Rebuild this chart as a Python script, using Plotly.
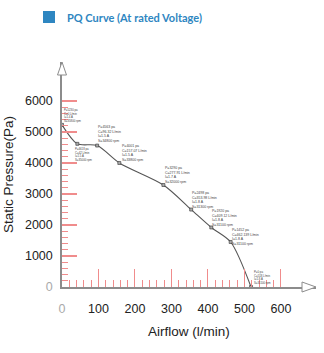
import plotly.graph_objects as go

# Data
airflow = [0, 42, 96.32, 157.07, 277.91, 353.98, 409.12, 462.139, 518]
pressure = [5230, 4618, 4563, 4001, 3290, 2498, 1920, 1452, 0]
current = [1.4, 1.5, 1.5, 1.5, 1.7, 1.8, 1.8, 1.8, 1.8]
speed = [35800, 35000, 34800, 33800, 32000, 31300, 31100, 31100, 31100]

x_ticks = [0, 100, 200, 300, 400, 500, 600]
y_ticks = [0, 1000, 2000, 3000, 4000, 5000, 6000]
x_minor = [v for v in range(20, 601, 20) if v % 100]
y_minor = [v for v in range(200, 6001, 200) if v % 1000]

title_text = "PQ Curve (At rated Voltage)"
x_title = "Airflow (l/min)"
y_title = "Static Pressure(Pa)"

# label styling (placement relative to each point)
label_style = [  # (yanchor, xshift, yshift, size)
    ("bottom", 1, 1, 2.8),
    ("top", -3, -2, 2.8),
    ("bottom", 0, 2, 3.5),
    ("bottom", 2, 0, 3.5),
    ("bottom", 1, 0, 3.5),
    ("bottom", 0, 0, 3.5),
    ("bottom", 0, -1, 3.5),
    ("bottom", 0, -5, 3.5),
    ("bottom", 2, 1, 2.8),
]

labels = [f"P={p} pa<br>C={c} L/min<br>I={i} A<br>S={s} rpm"
          for p, c, i, s in zip(pressure, airflow, current, speed)]

def tick_text(vals):
    return ['<span style="color:#aaaaaa">0</span>' if v == 0 else str(v) for v in vals]

fig = go.Figure()
fig.add_trace(go.Scatter(
    x=airflow, y=pressure, mode="lines+markers",
    line=dict(color="#555555", width=1.1, shape="spline", smoothing=0.8),
    marker=dict(symbol="square", size=3, color="#aaaaaa",
                line=dict(color="#333333", width=0.6)),
    hoverinfo="skip", cliponaxis=False, showlegend=False))

for xv, yv, lab, (ya, xs, ys, sz) in zip(airflow, pressure, labels, label_style):
    fig.add_annotation(x=xv, y=yv, xref="x", yref="y", text=lab, showarrow=False,
                       xanchor="left", yanchor=ya, align="left",
                       xshift=xs, yshift=ys, borderpad=0,
                       font=dict(size=sz, color="#444444", family="Liberation Sans"))

XMAX, YMAX = 696, 7258
tickcol = "#f08c8c"
fig.update_xaxes(range=[0, XMAX], showgrid=False, zeroline=False,
                 showline=True, linecolor="#8c8c8c", linewidth=1.5,
                 ticks="inside", ticklen=18, tickwidth=1, tickcolor=tickcol,
                 tickvals=x_ticks, ticktext=tick_text(x_ticks),
                 ticklabelstandoff=9,
                 tickfont=dict(size=12.5, color="#222222", family="Liberation Sans"),
                 minor=dict(tickvals=x_minor, ticks="inside", ticklen=7,
                            tickcolor=tickcol, tickwidth=1, showgrid=False),
                 title=dict(text=x_title, standoff=12,
                            font=dict(size=13.5, color="#222222", family="Liberation Sans")))
fig.update_yaxes(range=[0, YMAX], showgrid=False, zeroline=False,
                 showline=True, linecolor="#8c8c8c", linewidth=1.5,
                 ticks="inside", ticklen=15, tickwidth=1.5, tickcolor=tickcol,
                 tickvals=y_ticks, ticktext=tick_text(y_ticks),
                 ticklabelstandoff=5,
                 tickfont=dict(size=12.5, color="#222222", family="Liberation Sans"),
                 minor=dict(tickvals=y_minor, ticks="inside", ticklen=6,
                            tickcolor=tickcol, tickwidth=1, showgrid=False),
                 title=dict(text=y_title, standoff=8,
                            font=dict(size=13.5, color="#222222", family="Liberation Sans")))

# open arrowheads at the ends of the axes
fig.add_shape(type="path", xref="paper", yref="paper", xsizemode="pixel", ysizemode="pixel",
              xanchor=1, yanchor=0, path="M 0 0 L -14 5 L -14 -5 Z",
              line=dict(color="#8c8c8c", width=1), fillcolor="white")
fig.add_shape(type="path", xref="paper", yref="paper", xsizemode="pixel", ysizemode="pixel",
              xanchor=0, yanchor=1, path="M 0 0 L -4.5 -13 L 4.5 -13 Z",
              line=dict(color="#8c8c8c", width=1), fillcolor="white")

# title with blue square
fig.add_shape(type="rect", xref="paper", yref="paper", xsizemode="pixel", ysizemode="pixel",
              xanchor=0, yanchor=1, x0=-19, x1=-7, y0=39, y1=51,
              fillcolor="#2e86c1", line=dict(width=0))
fig.add_annotation(text=f"<b>{title_text}</b>", xref="paper", yref="paper",
                   x=0, y=1, xanchor="left", yanchor="middle", xshift=3, yshift=45,
                   showarrow=False,
                   font=dict(size=11, color="#2e86c1", family="Lato"))

fig.update_layout(width=324, height=353, margin=dict(l=62, r=8, t=62, b=66),
                  plot_bgcolor="white", paper_bgcolor="white")
fig.write_html("out.html")
